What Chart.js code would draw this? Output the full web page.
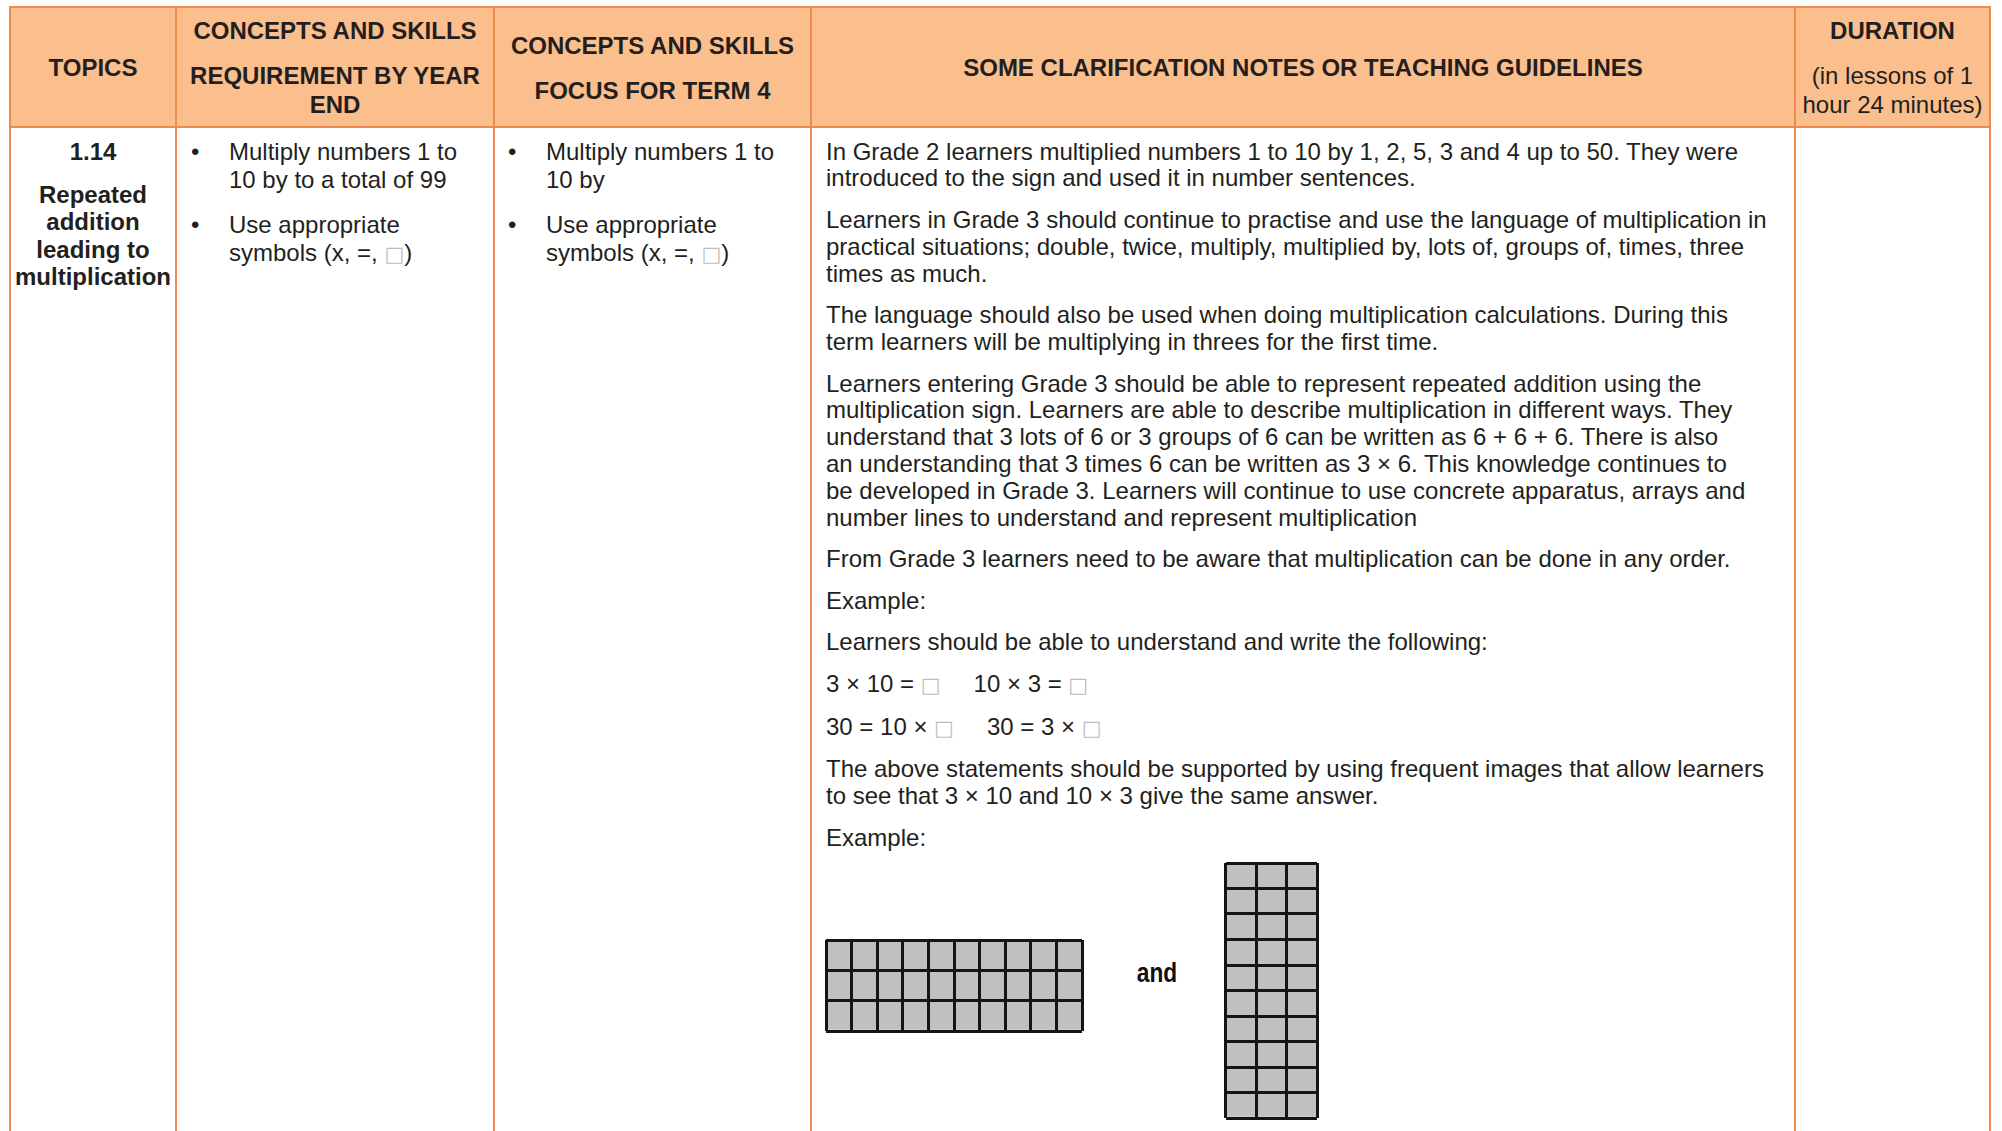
<!DOCTYPE html>
<html>
<head>
<meta charset="utf-8">
<script src="https://cdn.jsdelivr.net/npm/chart.js@4.4.0/dist/chart.umd.min.js"></script>
<style>
  html, body { margin: 0; padding: 0; background: #fff; }
  body { width: 2002px; height: 1131px; position: relative; overflow: hidden; font-family: "Liberation Sans", Arial, sans-serif; color: #231f20; }
  .hdr { position: absolute; left: 10px; top: 7px; width: 1980px; height: 120px; background: #fbbe8d; }
  .vl { position: absolute; top: 6px; width: 2px; height: 1130px; background: #ee8b4e; }
  .hl { position: absolute; left: 9px; width: 1982px; height: 2px; background: #ee8b4e; }
  .h { position: absolute; text-align: center; font-weight: bold; font-size: 24px; line-height: 29px; white-space: nowrap; }
  .h .reg { font-weight: normal; }
  .h p { margin: 0 0 16px; }
  .topic { position: absolute; left: 10px; width: 166px; top: 138px; text-align: center; font-weight: bold; font-size: 24px; line-height: 27.2px; white-space: nowrap; }
  .topic p { margin: 0 0 16px; }
  .list { position: absolute; top: 138px; font-size: 24px; line-height: 28px; white-space: nowrap; }
  .list p { margin: 0 0 17px; position: relative; }
  .list .b { position: absolute; left: -38px; }
  .notes { position: absolute; left: 826px; top: 138.6px; font-size: 24px; line-height: 26.8px; white-space: nowrap; }
  .notes p { margin: 0 0 14.8px; }
  .box { color: #bdbdbd; font-family: "DejaVu Sans", sans-serif; font-size: 21px; font-weight: normal; }
  .gap { display: inline-block; width: 33px; }
  .and { position: absolute; left: 1120px; width: 74px; top: 955px; text-align: center; font-weight: bold; font-size: 27px; line-height: 36px; color: #111; transform: scaleX(0.84); }
  canvas { position: absolute; }
</style>
</head>
<body>
<div class="hdr"></div>
<div class="hl" style="top:6px"></div>
<div class="hl" style="top:126px"></div>
<div class="vl" style="left:9px"></div>
<div class="vl" style="left:175px"></div>
<div class="vl" style="left:493px"></div>
<div class="vl" style="left:810px"></div>
<div class="vl" style="left:1794px"></div>
<div class="vl" style="left:1989px"></div>

<div class="h" style="left:10px;width:166px;top:52.5px">TOPICS</div>
<div class="h" style="left:176px;width:318px;top:15.5px"><p>CONCEPTS AND SKILLS</p><p>REQUIREMENT BY YEAR<br>END</p></div>
<div class="h" style="left:494px;width:317px;top:30.5px"><p>CONCEPTS AND SKILLS</p><p>FOCUS FOR TERM 4</p></div>
<div class="h" style="left:811px;width:984px;top:52.5px">SOME CLARIFICATION NOTES OR TEACHING GUIDELINES</div>
<div class="h" style="left:1795px;width:195px;top:15.5px"><p>DURATION</p><p class="reg">(in lessons of 1<br>hour 24 minutes)</p></div>

<div class="topic"><p>1.14</p><p>Repeated<br>addition<br>leading to<br>multiplication</p></div>

<div class="list" style="left:229px">
  <p><span class="b">•</span>Multiply numbers 1 to<br>10 by to a total of 99</p>
  <p><span class="b">•</span>Use appropriate<br>symbols (x, =, <span class="box">□</span>)</p>
</div>
<div class="list" style="left:546px">
  <p><span class="b">•</span>Multiply numbers 1 to<br>10 by</p>
  <p><span class="b">•</span>Use appropriate<br>symbols (x, =, <span class="box">□</span>)</p>
</div>

<div class="notes">
  <p>In Grade 2 learners multiplied numbers 1 to 10 by 1, 2, 5, 3 and 4 up to 50. They were<br>introduced to the sign and used it in number sentences.</p>
  <p>Learners in Grade 3 should continue to practise and use the language of multiplication in<br>practical situations; double, twice, multiply, multiplied by, lots of, groups of, times, three<br>times as much.</p>
  <p>The language should also be used when doing multiplication calculations. During this<br>term learners will be multiplying in threes for the first time.</p>
  <p>Learners entering Grade 3 should be able to represent repeated addition using the<br>multiplication sign. Learners are able to describe multiplication in different ways. They<br>understand that 3 lots of 6 or 3 groups of 6 can be written as 6 + 6 + 6. There is also<br>an understanding that 3 times 6 can be written as 3 × 6. This knowledge continues to<br>be developed in Grade 3. Learners will continue to use concrete apparatus, arrays and<br>number lines to understand and represent multiplication</p>
  <p>From Grade 3 learners need to be aware that multiplication can be done in any order.</p>
  <p>Example:</p>
  <p>Learners should be able to understand and write the following:</p>
  <p>3 × 10 = <span class="box">□</span><span class="gap"></span>10 × 3 = <span class="box">□</span></p>
  <p>30 = 10 × <span class="box">□</span><span class="gap"></span>30 = 3 × <span class="box">□</span></p>
  <p>The above statements should be supported by using frequent images that allow learners<br>to see that 3 × 10 and 10 × 3 give the same answer.</p>
  <p>Example:</p>
</div>

<canvas id="wideGrid" width="260" height="95" style="left:824px;top:938px"></canvas>
<div class="and">and</div>
<canvas id="tallGrid" width="95" height="259" style="left:1224px;top:861px"></canvas>

<script>
// 3 rows of 10 and 10 rows of 3: every cell counts 1
const wideColumns = ['1', '2', '3', '4', '5', '6', '7', '8', '9', '10'];
const wideRows = [
  [1, 1, 1, 1, 1, 1, 1, 1, 1, 1],
  [1, 1, 1, 1, 1, 1, 1, 1, 1, 1],
  [1, 1, 1, 1, 1, 1, 1, 1, 1, 1]
];
const tallColumns = ['1', '2', '3'];
const tallRows = [
  [1, 1, 1], [1, 1, 1], [1, 1, 1], [1, 1, 1], [1, 1, 1],
  [1, 1, 1], [1, 1, 1], [1, 1, 1], [1, 1, 1], [1, 1, 1]
];

function gridChart(id, labels, rows) {
  // grid drawn above the bars so the lines become the cell borders
  const lines = { color: '#151515', lineWidth: 3, drawTicks: false, z: 1 };
  new Chart(document.getElementById(id), {
    type: 'bar',
    data: {
      labels: labels,
      datasets: rows.map(r => ({ data: r, backgroundColor: '#c0c0c0', borderWidth: 0, barPercentage: 1, categoryPercentage: 1 }))
    },
    options: {
      responsive: false,
      animation: false,
      layout: { padding: 2 },
      plugins: { legend: { display: false }, tooltip: { enabled: false } },
      scales: {
        x: { stacked: true, offset: true, ticks: { display: false }, grid: Object.assign({ offset: true }, lines), border: { display: false } },
        y: { stacked: true, min: 0, max: rows.length, ticks: { display: false, stepSize: 1 }, grid: lines, border: { display: false } }
      }
    }
  });
}

gridChart('wideGrid', wideColumns, wideRows);
gridChart('tallGrid', tallColumns, tallRows);
</script>
</body>
</html>
